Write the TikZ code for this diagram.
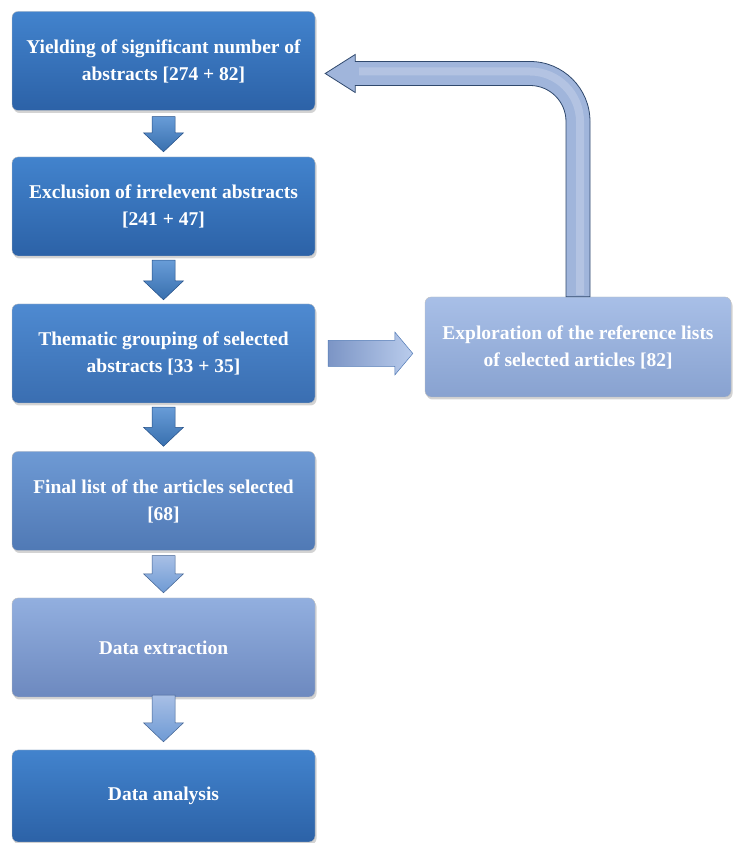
\documentclass[tikz,border=0pt]{standalone}
\usepackage{fontspec}
\setmainfont{Liberation Serif}
\usetikzlibrary{calc,shadows}
\definecolor{bAt}{HTML}{4283CD}\definecolor{bAb}{HTML}{2C62A7}
\definecolor{bCt}{HTML}{4E8AD1}\definecolor{bCb}{HTML}{3A6EB1}
\definecolor{bDt}{HTML}{6E9AD4}\definecolor{bDb}{HTML}{5079B5}
\definecolor{bEt}{HTML}{92AFDF}\definecolor{bEb}{HTML}{6D89BF}
\definecolor{bRt}{HTML}{A8BFE7}\definecolor{bRb}{HTML}{88A2D0}
\newcommand\blockdown[5]{%
  \path[#5] let \p1=($(#1.south)+(0,-#3)$), \p2=($(#2.north)+(0,#4)$) in
    (\x1-11.5pt,\y1) -- (\x1+11.5pt,\y1) -- (\x1+11.5pt,\y2+19pt) -- (\x1+20pt,\y2+19pt)
    -- (\x1,\y2) -- (\x1-20pt,\y2+19pt) -- (\x1-11.5pt,\y2+19pt) -- cycle;}
\begin{document}
\begin{tikzpicture}[x=1pt,y=1pt,
  boxsty/.style={rounded corners=6pt, minimum width=303pt, minimum height=99pt,
    align=center, text=white, inner sep=0pt,
    font=\bfseries\fontsize{19.5}{27}\selectfont,
    drop shadow={shadow xshift=1.5pt,shadow yshift=-2.5pt,opacity=0.35},
    draw=black!25, line width=0.4pt},
  darrowA/.style={top color=bAt!80!white, bottom color=bAt!85!black, draw=bAb!80!black, line width=0.5pt},
  darrowB/.style={top color=bEt!80!white, bottom color=bDt, draw=bDb!80!black, line width=0.5pt},
  rarrow/.style={left color=bEb!90!white, right color=bRt!80!white, draw=bDb, line width=0.5pt},
  looparrow/.style={fill=bRt!95!black, draw=bDb!60!black, line width=0.8pt}
]
\useasboundingbox (0,0) rectangle (732,843);

\node[boxsty, top color=bAt, bottom color=bAb] (b1) at (163.5,782)
  {Yielding of significant number of\\abstracts [274 + 82]};
\node[boxsty, top color=bAt, bottom color=bAb] (b2) at (163.5,636.5)
  {Exclusion of irrelevent abstracts\\{}[241 + 47]};
\node[boxsty, top color=bCt, bottom color=bCb] (b3) at (163.5,489.5)
  {Thematic grouping of selected\\abstracts [33 + 35]};
\node[boxsty, top color=bDt, bottom color=bDb] (b4) at (163.5,342)
  {Final list of the articles selected\\{}[68]};
\node[boxsty, top color=bEt, bottom color=bEb] (b5) at (163.5,195.5)
  {Data extraction};
\node[boxsty, minimum height=92pt, top color=bAt, bottom color=bAb] (b6) at (163.5,47)
  {Data analysis};
\node[boxsty, minimum width=306pt, minimum height=100pt, top color=bRt, bottom color=bRb] (r) at (578,496)
  {Exploration of the reference lists\\of selected articles [82]};

\blockdown{b1}{b2}{6}{5}{darrowA}
\blockdown{b2}{b3}{4}{4}{darrowA}
\blockdown{b3}{b4}{4}{5}{darrowA}
\blockdown{b4}{b5}{5}{5}{darrowB}
\blockdown{b5}{b6}{-2}{8}{darrowB}

\path[rarrow] let \p1=($(b3.east)+(13,0)$), \p2=($(r.west)+(-12,0)$) in
  (\x1,\y1+13pt) -- (\x2-18pt,\y1+13pt) -- (\x2-18pt,\y1+21.5pt) -- (\x2,\y1)
  -- (\x2-18pt,\y1-21.5pt) -- (\x2-18pt,\y1-13pt) -- (\x1,\y1-13pt) -- cycle;

\path[looparrow] let \p1=(r.north), \p2=($(b1.east)+(10,-12.5)$) in
  (\x1-12pt,\y1) -- (\x1+12pt,\y1) -- (\x1+12pt,\y2-48pt)
  arc[start angle=0,end angle=90,radius=60pt]
  -- (\x2+30pt,\y2+12pt) -- (\x2+30pt,\y2+19pt) -- (\x2,\y2) -- (\x2+30pt,\y2-19pt)
  -- (\x2+30pt,\y2-12pt) -- (\x1-48pt,\y2-12pt)
  arc[start angle=90,end angle=0,radius=36pt] -- cycle;
\draw[white, opacity=0.2, line width=8pt] let \p1=(r.north), \p2=($(b1.east)+(10,-12.5)$) in
  (\x1+2pt,\y1+2pt) -- (\x1+2pt,\y2-48pt) arc[start angle=0,end angle=90,radius=50pt] -- (\x2+34pt,\y2+2pt);
\end{tikzpicture}
\end{document}
